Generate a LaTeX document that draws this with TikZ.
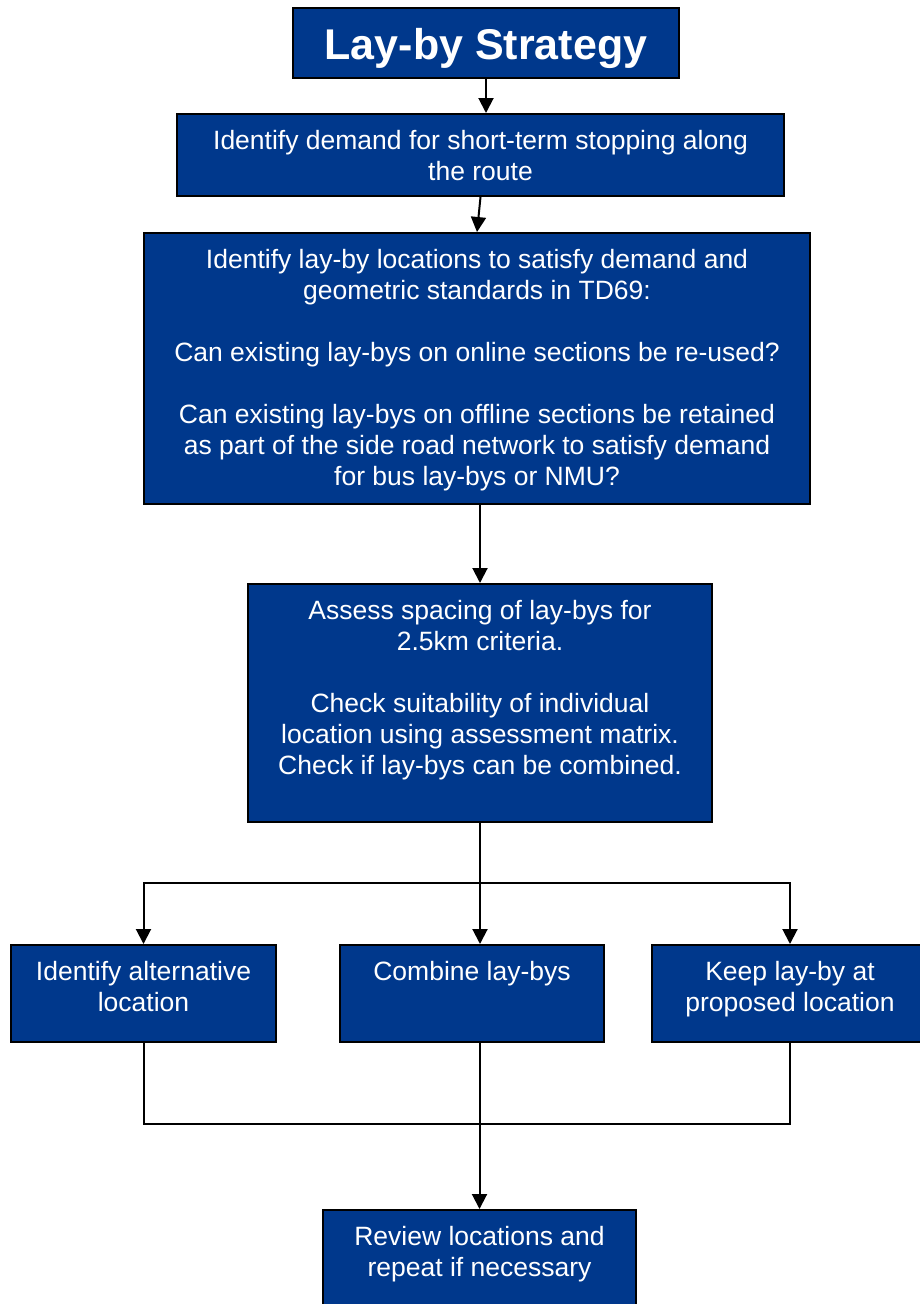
\documentclass[tikz,border=0pt]{standalone}
\usepackage{fontspec}
\setmainfont{Liberation Sans}
\usepackage{tikz}
\usetikzlibrary{arrows.meta, calc}
\usepackage{xcolor}
\definecolor{blustrada}{RGB}{0,56,140}
% testo di una casella: [prima riga]{larghezza}{altezza}{testo}
\newcommand{\casella}[4][35]{\parbox[t][#3pt][t]{#2pt}{\centering\rule{0pt}{#1pt}#4}}

\begin{document}
\begin{tikzpicture}[x = 1pt, y = -1pt,
    blocco/.style = {draw = black, line width = 2pt, fill = blustrada, text = white, inner sep = 0pt, anchor = north west, font = \fontsize{26.5}{31}\selectfont},
    linea/.style = {line width = 2pt},
    freccia/.style = {linea, -{Triangle[length = 15pt, width = 15pt]}}]
    % Parametri
    \pgfmathsetmacro{\yram}{883}
    \pgfmathsetmacro{\yrac}{1124}
    \useasboundingbox (0,0) rectangle (920,1304);
    % Titolo
    \node[blocco, font = \fontsize{43}{50}\selectfont\bfseries] (titolo) at (292,7){\casella[51]{386}{70}{Lay-by Strategy}};
    % Domanda
    \node[blocco] (domanda) at (176,113){\casella{607}{82}{Identify demand for short-term stopping along\\the route}};
    % Posizioni
    \node[blocco] (posizioni) at (143,232){\casella{666}{271}{Identify lay-by locations to satisfy demand and\\geometric standards in TD69:\\[31pt]Can existing lay-bys on online sections be re-used?\\[31pt]Can existing lay-bys on offline sections be retained\\as part of the side road network to satisfy demand\\for bus lay-bys or NMU?}};
    % Spaziatura
    \node[blocco] (spaziatura) at (247,583){\casella{464}{238}{Assess spacing of lay-bys for\\2.5km criteria.\\[31pt]Check suitability of individual\\location using assessment matrix.\\Check if  lay-bys can be combined.}};
    % Tre esiti
    \node[blocco] (alternativa) at (10,944){\casella{265}{97}{Identify alternative\\location}};
    \node[blocco] (combina) at (339,944){\casella{264}{97}{Combine lay-bys}};
    \node[blocco] (mantieni) at (651,944){\casella{276}{97}{Keep lay-by at\\proposed location}};
    % Revisione
    \node[blocco] (revisione) at (322,1209){\casella{313}{125}{Review locations and\\repeat if necessary}};

    % Frecce in alto
    \draw[freccia] (titolo.south) -- (titolo.south |- domanda.north);
    \draw[freccia] (domanda.south) -- (posizioni.north);
    \draw[freccia] (spaziatura.north |- posizioni.south) -- (spaziatura.north);
    % Diramazione
    \coordinate (diram) at (spaziatura.south |- 0,\yram);
    \draw[freccia] (spaziatura.south) -- (spaziatura.south |- combina.north);
    \draw[freccia] (diram) -| (alternativa.north);
    \draw[freccia] (diram) -| (mantieni.north);
    % Raccolta
    \coordinate (raccolta) at (revisione.north |- 0,\yrac);
    \draw[linea] (alternativa.south) |- (raccolta) -| (mantieni.south);
    \draw[freccia] (revisione.north |- combina.south) -- (revisione.north);
\end{tikzpicture}
\end{document}
